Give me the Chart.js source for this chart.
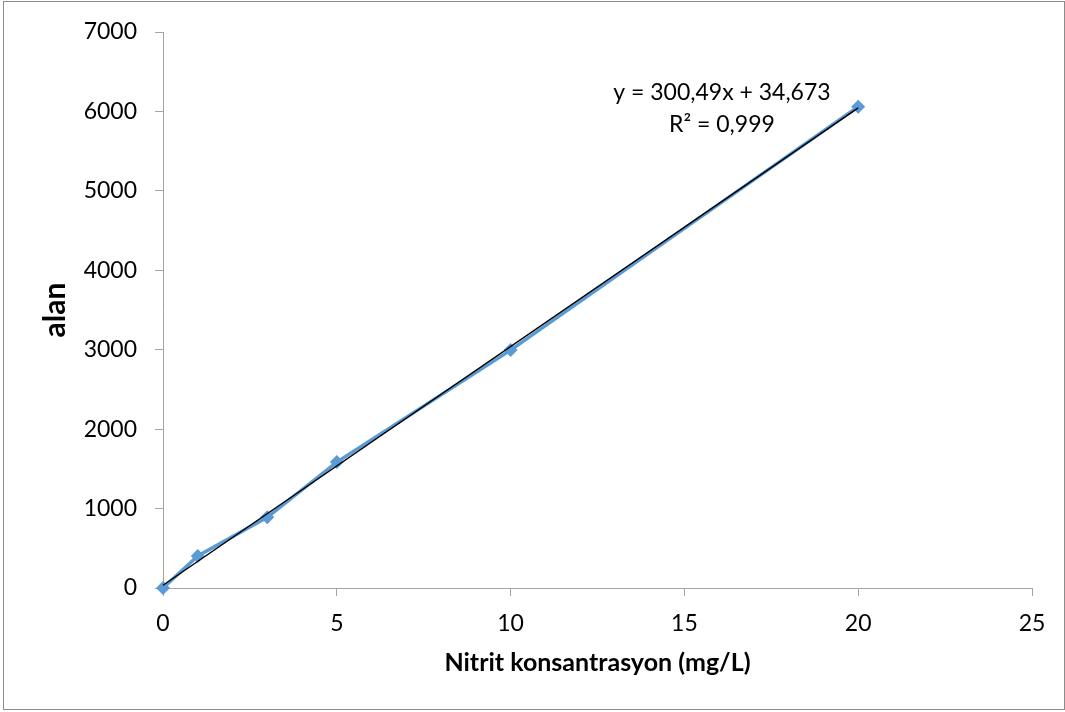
<!DOCTYPE html>
<html>
<head>
<meta charset="utf-8">
<script src="https://cdn.jsdelivr.net/npm/chart.js@4"></script>
<style>
  html, body { margin: 0; padding: 0; background: #fff; }
  #wrap { width: 1065px; height: 712px; }
</style>
</head>
<body>
<div id="wrap"><canvas id="chart" width="1065" height="712"></canvas></div>
<script>
// ---- data ----
const concentrations = [0, 1, 3, 5, 10, 20];
const areas = [0, 403, 890, 1585, 2995, 6060];

// linear trendline endpoints (from y = 300,49x + 34,673)
const trendX = [0, 20];
const trendY = [34.7, 6044.5];

const xTicks = [0, 5, 10, 15, 20, 25];
const yTicks = [0, 1000, 2000, 3000, 4000, 5000, 6000, 7000];

const equationLines = ["y = 300,49x + 34,673", "R² = 0,999"];

const FONT = "Lato, 'Open Sans', sans-serif";

// outer frame + trendline label
const extras = {
  id: "extras",
  afterDraw(chart) {
    const ctx = chart.ctx;
    const xs = chart.scales.x, ys = chart.scales.y;
    ctx.save();
    ctx.strokeStyle = "#8c8c8c";
    ctx.lineWidth = 1;
    ctx.strokeRect(3.5, 1.5, 1061, 708);

    ctx.fillStyle = "#000";
    ctx.font = "23px " + FONT;
    ctx.textAlign = "center";
    ctx.textBaseline = "middle";
    const cx = xs.getPixelForValue(16.08);
    const cy = ys.getPixelForValue(6240);
    ctx.fillText(equationLines[0], cx, cy);
    ctx.fillText(equationLines[1], cx, cy + 32);
    ctx.restore();
  }
};

new Chart(document.getElementById("chart"), {
  type: "scatter",
  data: {
    datasets: [
      {
        label: "Linear (alan)",
        data: trendX.map((x, i) => ({ x: x, y: trendY[i] })),
        showLine: true,
        borderColor: "#000",
        borderWidth: 1.5,
        pointRadius: 0,
        clip: false
      },
      {
        label: "alan",
        data: concentrations.map((x, i) => ({ x: x, y: areas[i] })),
        showLine: true,
        borderColor: "#5B9BD5",
        backgroundColor: "#5B9BD5",
        borderWidth: 3.5,
        pointStyle: "rectRot",
        pointRadius: 7,
        pointBorderWidth: 0,
        pointBackgroundColor: "#5B9BD5",
        clip: false
      }
    ]
  },
  options: {
    responsive: false,
    animation: false,
    layout: { padding: { left: 0, top: 32, right: 33, bottom: 0 } },
    plugins: {
      legend: { display: false },
      tooltip: { enabled: false }
    },
    scales: {
      x: {
        type: "linear",
        min: 0,
        max: 25,
        afterBuildTicks: s => { s.ticks = xTicks.map(v => ({ value: v })); },
        afterFit: s => { s.height = 124; },
        grid: { drawOnChartArea: false, drawTicks: true, tickLength: 8, color: "#a6a6a6" },
        border: { color: "#a6a6a6", width: 1 },
        ticks: { color: "#000", font: { family: FONT, size: 23 }, padding: 14, callback: v => String(v) },
        title: {
          display: true,
          text: "Nitrit konsantrasyon (mg/L)",
          color: "#000",
          font: { family: FONT, size: 25, weight: "bold" },
          padding: { top: 0, bottom: 34 }
        }
      },
      y: {
        type: "linear",
        min: 0,
        max: 7000,
        afterBuildTicks: s => { s.ticks = yTicks.map(v => ({ value: v })); },
        afterFit: s => { s.width = 163; },
        grid: { drawOnChartArea: false, drawTicks: true, tickLength: 8, color: "#a6a6a6" },
        border: { color: "#a6a6a6", width: 1 },
        ticks: { color: "#000", font: { family: FONT, size: 23 }, padding: 18, callback: v => String(v) },
        title: {
          display: true,
          text: "alan",
          color: "#000",
          font: { family: FONT, size: 30, weight: "bold" },
          padding: { top: 37, bottom: 0 }
        }
      }
    }
  },
  plugins: [extras]
});
</script>
</body>
</html>
